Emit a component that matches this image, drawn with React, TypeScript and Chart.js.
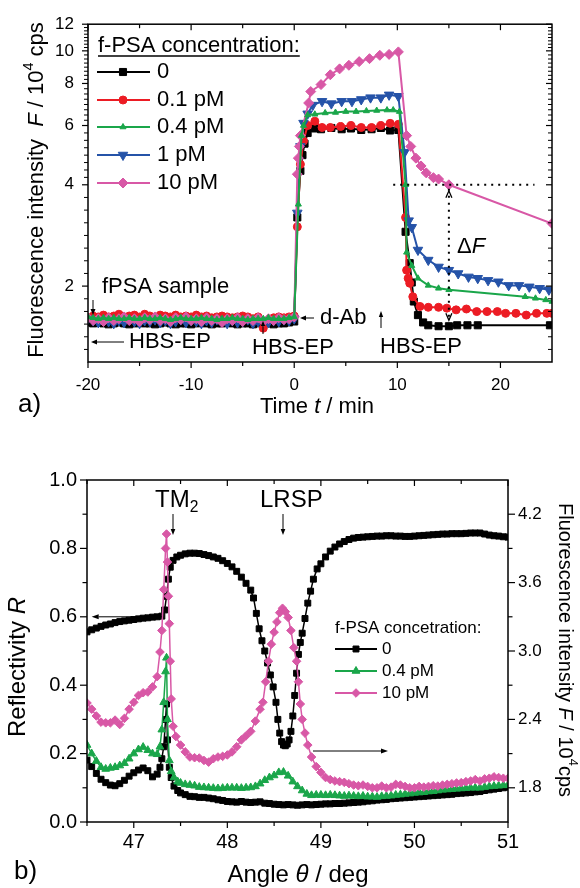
import React, { useEffect, useRef } from 'react';
import { Chart, registerables } from 'chart.js';

Chart.register(...registerables);

const FONT = '"Liberation Sans", Arial, Helvetica, sans-serif';

// ---------------- Panel a) kinetics ----------------
const baselineTime = [-20, -19.5, -19, -18.5, -18, -17.5, -17, -16.5, -16, -15.5, -15, -14.5, -14, -13.5, -13, -12.5, -12, -11.5, -11, -10.5, -10, -9.5, -9, -8.5, -8, -7.5, -7, -6.5, -6, -5.5, -5, -4.5, -4, -3.5, -3, -2.5, -2, -1.5, -1, -0.5, 0];

const zeroBaseline = [1.56, 1.55, 1.56, 1.55, 1.54, 1.55, 1.56, 1.55, 1.54, 1.55, 1.56, 1.55, 1.55, 1.54, 1.55, 1.56, 1.55, 1.54, 1.55, 1.55, 1.54, 1.55, 1.56, 1.55, 1.54, 1.55, 1.55, 1.56, 1.55, 1.54, 1.55, 1.55, 1.54, 1.55, 1.56, 1.55, 1.54, 1.55, 1.55, 1.56, 1.57];
const zeroTimeRest = [0.3, 0.6, 0.8, 1.0, 1.3, 2.0, 2.6, 3.6, 4.6, 5.5, 6.5, 7.5, 8.4, 9.3, 10.1, 10.8, 11.2, 11.4, 11.6, 12.0, 12.5, 13.0, 14.0, 15.0, 15.8, 16.8, 17.8, 24.8];
const zeroRest = [3.2, 4.4, 4.9, 5.3, 5.7, 5.88, 5.85, 5.9, 5.85, 5.88, 5.82, 5.85, 5.9, 5.8, 5.82, 2.9, 2.34, 2.05, 1.8, 1.64, 1.56, 1.53, 1.52, 1.52, 1.53, 1.53, 1.53, 1.53];

const p01Baseline = [1.61, 1.63, 1.62, 1.64, 1.62, 1.63, 1.65, 1.62, 1.63, 1.64, 1.62, 1.65, 1.63, 1.62, 1.64, 1.63, 1.62, 1.64, 1.62, 1.63, 1.62, 1.64, 1.62, 1.63, 1.61, 1.62, 1.63, 1.62, 1.61, 1.62, 1.63, 1.62, 1.6, 1.62, 1.5, 1.58, 1.61, 1.62, 1.61, 1.62, 1.63];
const p01TimeRest = [0.3, 0.6, 0.9, 1.3, 2.0, 2.7, 3.5, 4.5, 5.5, 6.5, 7.5, 8.4, 9.3, 10.1, 10.8, 10.9, 11.05, 11.2, 11.5, 12.2, 13.0, 14.0, 14.8, 15.7, 16.7, 17.7, 18.7, 19.7, 20.5, 21.5, 22.5, 23.5, 24.5, 25.0];
const p01Rest = [3.0, 4.6, 5.4, 6.0, 6.18, 5.92, 5.92, 5.96, 6.0, 5.92, 5.92, 6.0, 6.09, 6.05, 3.2, 2.23, 2.11, 2.04, 1.86, 1.74, 1.73, 1.73, 1.72, 1.7, 1.71, 1.68, 1.68, 1.68, 1.66, 1.66, 1.64, 1.66, 1.66, 1.66];

const p04Baseline = [1.62, 1.61, 1.6, 1.61, 1.6, 1.61, 1.6, 1.6, 1.61, 1.6, 1.6, 1.61, 1.6, 1.6, 1.61, 1.6, 1.59, 1.6, 1.61, 1.6, 1.6, 1.6, 1.61, 1.6, 1.6, 1.59, 1.6, 1.6, 1.61, 1.6, 1.6, 1.59, 1.6, 1.6, 1.6, 1.61, 1.6, 1.6, 1.6, 1.61, 1.62];
const p04TimeRest = [0.4, 0.7, 0.9, 1.3, 2.0, 3.0, 4.0, 5.0, 6.0, 7.0, 8.0, 9.0, 9.6, 10.2, 10.8, 10.9, 11.4, 12.0, 13.0, 14.0, 15.0, 22.4, 23.4, 24.4, 25.0];
const p04Rest = [3.5, 5.6, 6.0, 6.45, 6.48, 6.54, 6.56, 6.6, 6.6, 6.63, 6.65, 6.67, 6.67, 6.6, 4.0, 2.52, 2.3, 2.11, 2.01, 1.97, 1.95, 1.86, 1.84, 1.82, 1.8];

const p1Baseline = [1.6, 1.58, 1.56, 1.59, 1.57, 1.55, 1.58, 1.56, 1.59, 1.57, 1.55, 1.58, 1.57, 1.59, 1.56, 1.58, 1.55, 1.57, 1.59, 1.56, 1.58, 1.57, 1.55, 1.58, 1.56, 1.59, 1.57, 1.55, 1.58, 1.56, 1.57, 1.59, 1.55, 1.57, 1.58, 1.56, 1.58, 1.57, 1.59, 1.58, 1.6];
const p1TimeRest = [0.3, 0.6, 0.9, 1.3, 1.8, 2.7, 3.6, 4.6, 5.6, 6.5, 7.4, 8.4, 9.2, 10.1, 10.7, 11.1, 11.4, 12.0, 13.0, 14.0, 15.0, 15.9, 16.9, 17.8, 18.8, 19.8, 20.8, 21.8, 22.8, 23.8, 24.7];
const p1Rest = [3.3, 5.2, 6.1, 6.5, 6.9, 7.08, 6.97, 7.08, 7.08, 7.17, 7.26, 7.26, 7.4, 7.33, 5.0, 3.13, 2.99, 2.56, 2.39, 2.28, 2.23, 2.18, 2.13, 2.11, 2.08, 2.06, 2.01, 2.01, 1.99, 1.97, 1.95];

const p10Baseline = [1.61, 1.58, 1.6, 1.57, 1.61, 1.58, 1.6, 1.62, 1.58, 1.6, 1.57, 1.61, 1.59, 1.62, 1.58, 1.6, 1.57, 1.61, 1.59, 1.62, 1.58, 1.6, 1.57, 1.61, 1.58, 1.6, 1.56, 1.6, 1.58, 1.61, 1.57, 1.6, 1.58, 1.61, 1.57, 1.6, 1.58, 1.61, 1.59, 1.6, 1.62];
const p10TimeRest = [0.3, 0.4, 0.5, 0.6, 1.4, 1.6, 2.6, 3.5, 4.4, 5.3, 6.3, 7.3, 8.3, 9.2, 10.1, 10.9, 11.3, 11.8, 12.3, 12.8, 13.5, 14.0, 15.0, 25.0];
const p10Rest = [4.3, 4.8, 5.2, 5.6, 7.0, 7.57, 7.94, 8.49, 8.84, 9.06, 9.29, 9.48, 9.7, 9.76, 9.93, 5.6, 5.2, 4.8, 4.55, 4.34, 4.2, 4.16, 4.0, 3.07];

const timeTicks = [-20, -10, 0, 10, 20];
const timeMinorTicks = [-15, -5, 5, 15];
const intensityTicks = [2, 4, 6, 8, 10, 12];

// ---------------- Panel b) angular scans ----------------
const reflAngle = [46.5, 46.55, 46.6, 46.65, 46.7, 46.75, 46.8, 46.85, 46.9, 46.95, 47.0, 47.05, 47.1, 47.15, 47.2, 47.25, 47.3, 47.33, 47.35, 47.37, 47.39, 47.42, 47.46, 47.5, 47.55, 47.6, 47.65, 47.7, 47.75, 47.8, 47.85, 47.9, 47.95, 48.0, 48.05, 48.1, 48.15, 48.2, 48.25, 48.28, 48.31, 48.34, 48.37, 48.4, 48.43, 48.46, 48.49, 48.52, 48.54, 48.56, 48.58, 48.6, 48.62, 48.64, 48.66, 48.68, 48.7, 48.72, 48.74, 48.76, 48.78, 48.8, 48.83, 48.86, 48.89, 48.92, 48.96, 49.0, 49.05, 49.1, 49.15, 49.2, 49.25, 49.3, 49.35, 49.4, 49.45, 49.5, 49.55, 49.6, 49.65, 49.7, 49.75, 49.8, 49.85, 49.9, 49.95, 50.0, 50.05, 50.1, 50.15, 50.2, 50.25, 50.3, 50.35, 50.4, 50.45, 50.5, 50.55, 50.6, 50.65, 50.7, 50.75, 50.8, 50.85, 50.9, 50.95, 51.0];
const reflValue = [0.556, 0.562, 0.567, 0.572, 0.576, 0.579, 0.583, 0.586, 0.588, 0.59, 0.592, 0.594, 0.596, 0.597, 0.599, 0.6, 0.602, 0.62, 0.66, 0.71, 0.745, 0.765, 0.775, 0.78, 0.784, 0.786, 0.786, 0.785, 0.782, 0.779, 0.775, 0.771, 0.764, 0.756, 0.746, 0.733, 0.716, 0.698, 0.678, 0.655, 0.61, 0.565, 0.53, 0.5, 0.465, 0.43, 0.395, 0.35, 0.3, 0.26, 0.235, 0.225, 0.223, 0.228, 0.24, 0.265, 0.31, 0.37, 0.435, 0.49, 0.525, 0.552, 0.595, 0.64, 0.675, 0.71, 0.74, 0.755, 0.775, 0.792, 0.804, 0.813, 0.82, 0.826, 0.83, 0.832, 0.833, 0.834, 0.835, 0.836, 0.836, 0.837, 0.837, 0.836, 0.836, 0.835, 0.835, 0.836, 0.837, 0.838, 0.839, 0.84, 0.841, 0.842, 0.842, 0.843, 0.843, 0.843, 0.844, 0.845, 0.845, 0.845, 0.842, 0.839, 0.837, 0.836, 0.834, 0.833];

const fl0Angle = [46.5, 46.55, 46.6, 46.65, 46.7, 46.75, 46.8, 46.85, 46.9, 46.95, 47.0, 47.05, 47.1, 47.15, 47.2, 47.25, 47.28, 47.3, 47.32, 47.34, 47.35, 47.36, 47.38, 47.4, 47.43, 47.47, 47.5, 47.55, 47.6, 47.65, 47.7, 47.75, 47.8, 47.85, 47.9, 47.95, 48.0, 48.05, 48.1, 48.15, 48.2, 48.25, 48.3, 48.35, 48.4, 48.45, 48.5, 48.55, 48.6, 48.65, 48.7, 48.75, 48.8, 48.85, 48.9, 48.95, 49.0, 49.05, 49.1, 49.15, 49.2, 49.25, 49.3, 49.35, 49.4, 49.45, 49.5, 49.55, 49.6, 49.65, 49.7, 49.75, 49.8, 49.85, 49.9, 49.95, 50.0, 50.05, 50.1, 50.15, 50.2, 50.25, 50.3, 50.35, 50.4, 50.45, 50.5, 50.55, 50.6, 50.65, 50.7, 50.75, 50.8, 50.85, 50.9, 50.95, 51.0];
const fl0Value = [2.043, 1.986, 1.926, 1.875, 1.845, 1.824, 1.818, 1.836, 1.866, 1.902, 1.932, 1.956, 1.974, 1.95, 1.896, 1.92, 1.98, 2.055, 2.16, 2.4, 2.535, 2.22, 1.98, 1.89, 1.815, 1.776, 1.755, 1.74, 1.725, 1.722, 1.716, 1.716, 1.71, 1.704, 1.695, 1.689, 1.68, 1.677, 1.674, 1.68, 1.674, 1.671, 1.674, 1.677, 1.665, 1.662, 1.656, 1.653, 1.65, 1.653, 1.65, 1.647, 1.65, 1.653, 1.65, 1.653, 1.656, 1.659, 1.659, 1.662, 1.662, 1.665, 1.668, 1.671, 1.674, 1.677, 1.683, 1.686, 1.692, 1.695, 1.698, 1.704, 1.707, 1.71, 1.713, 1.716, 1.719, 1.722, 1.725, 1.728, 1.731, 1.734, 1.737, 1.74, 1.743, 1.749, 1.752, 1.755, 1.758, 1.764, 1.767, 1.776, 1.782, 1.788, 1.794, 1.8, 1.806];

const fl04Angle = [46.5, 46.55, 46.6, 46.65, 46.7, 46.75, 46.8, 46.85, 46.9, 46.95, 47.0, 47.05, 47.1, 47.15, 47.2, 47.25, 47.28, 47.3, 47.32, 47.34, 47.35, 47.36, 47.38, 47.4, 47.43, 47.47, 47.5, 47.55, 47.6, 47.65, 47.7, 47.75, 47.8, 47.85, 47.9, 47.95, 48.0, 48.05, 48.1, 48.15, 48.2, 48.25, 48.3, 48.35, 48.4, 48.45, 48.5, 48.55, 48.6, 48.65, 48.7, 48.75, 48.8, 48.85, 48.9, 48.95, 49.0, 49.05, 49.1, 49.15, 49.2, 49.25, 49.3, 49.35, 49.4, 49.45, 49.5, 49.55, 49.6, 49.65, 49.7, 49.75, 49.8, 49.85, 49.9, 49.95, 50.0, 50.05, 50.1, 50.15, 50.2, 50.25, 50.3, 50.35, 50.4, 50.45, 50.5, 50.55, 50.6, 50.65, 50.7, 50.75, 50.8, 50.85, 50.9, 50.95, 51.0];
const fl04Value = [2.175, 2.1, 2.034, 1.98, 1.965, 1.974, 1.98, 1.995, 2.016, 2.055, 2.1, 2.136, 2.157, 2.13, 2.1, 2.094, 2.16, 2.31, 2.55, 2.82, 2.94, 2.4, 2.04, 1.944, 1.89, 1.854, 1.842, 1.83, 1.824, 1.818, 1.806, 1.803, 1.8, 1.797, 1.794, 1.797, 1.8, 1.8, 1.8, 1.797, 1.8, 1.803, 1.812, 1.836, 1.866, 1.89, 1.908, 1.935, 1.938, 1.905, 1.854, 1.812, 1.776, 1.746, 1.734, 1.737, 1.737, 1.734, 1.737, 1.734, 1.731, 1.728, 1.731, 1.728, 1.725, 1.728, 1.722, 1.722, 1.719, 1.725, 1.728, 1.731, 1.737, 1.74, 1.746, 1.749, 1.755, 1.758, 1.761, 1.767, 1.77, 1.776, 1.782, 1.785, 1.788, 1.791, 1.794, 1.797, 1.8, 1.8, 1.8, 1.806, 1.812, 1.815, 1.818, 1.821, 1.824];

const fl10Angle = [46.5, 46.55, 46.6, 46.65, 46.7, 46.75, 46.8, 46.85, 46.9, 46.95, 47.0, 47.05, 47.1, 47.15, 47.2, 47.25, 47.28, 47.3, 47.32, 47.34, 47.35, 47.36, 47.37, 47.38, 47.39, 47.4, 47.42, 47.45, 47.5, 47.55, 47.6, 47.65, 47.7, 47.75, 47.8, 47.85, 47.9, 47.95, 48.0, 48.05, 48.1, 48.15, 48.2, 48.25, 48.3, 48.35, 48.38, 48.41, 48.44, 48.47, 48.5, 48.53, 48.56, 48.59, 48.62, 48.65, 48.68, 48.71, 48.74, 48.76, 48.78, 48.8, 48.83, 48.86, 48.9, 48.95, 49.0, 49.05, 49.1, 49.15, 49.2, 49.25, 49.3, 49.35, 49.4, 49.45, 49.5, 49.55, 49.6, 49.65, 49.7, 49.75, 49.8, 49.85, 49.9, 49.95, 50.0, 50.05, 50.1, 50.15, 50.2, 50.25, 50.3, 50.35, 50.4, 50.45, 50.5, 50.55, 50.6, 50.65, 50.7, 50.75, 50.8, 50.85, 50.9, 50.95, 51.0];
const fl10Value = [2.544, 2.49, 2.43, 2.376, 2.37, 2.37, 2.394, 2.355, 2.409, 2.49, 2.55, 2.61, 2.634, 2.64, 2.685, 2.775, 2.991, 3.18, 3.54, 3.9, 4.026, 3.78, 3.48, 3.24, 2.91, 2.58, 2.34, 2.25, 2.175, 2.115, 2.07, 2.064, 2.061, 2.04, 2.025, 2.055, 2.07, 2.076, 2.088, 2.115, 2.16, 2.22, 2.256, 2.295, 2.385, 2.49, 2.55, 2.73, 2.91, 3.06, 3.165, 3.255, 3.336, 3.375, 3.345, 3.294, 3.18, 3.03, 2.91, 2.73, 2.535, 2.4, 2.28, 2.175, 2.07, 1.986, 1.935, 1.89, 1.872, 1.86, 1.854, 1.848, 1.836, 1.824, 1.818, 1.824, 1.812, 1.8, 1.8, 1.815, 1.8, 1.806, 1.83, 1.824, 1.812, 1.8, 1.8, 1.812, 1.806, 1.812, 1.818, 1.815, 1.824, 1.83, 1.836, 1.842, 1.845, 1.854, 1.86, 1.872, 1.86, 1.878, 1.884, 1.896, 1.89, 1.884, 1.884];

const angleTicks = [47, 48, 49, 50, 51];
const angleMinorTicks = [46.5, 47.5, 48.5, 49.5, 50.5];
const reflTicks = [0, 0.2, 0.4, 0.6, 0.8, 1.0];
const reflMinorTicks = [0.1, 0.3, 0.5, 0.7, 0.9];
const fluorTicks = [1.8, 2.4, 3.0, 3.6, 4.2];
const fluorMinorTicks = [2.1, 2.7, 3.3, 3.9];

// ---------------- helpers ----------------
const BLACK = '#000000';
const RED = '#ec1c24';
const GREEN = '#1aa64a';
const BLUE = '#2553a8';
const PINK = '#d858a6';

function zip(xs: number[], ys: number[]) {
  const n = Math.min(xs.length, ys.length);
  const out: { x: number; y: number }[] = [];
  for (let i = 0; i < n; i++) out.push({ x: xs[i], y: ys[i] });
  return out;
}

function font(size: number, italic = false) {
  return `${italic ? 'italic ' : ''}${size}px ${FONT}`;
}

type Part = { t: string; i?: boolean; sup?: boolean; sub?: boolean };

function richText(ctx: CanvasRenderingContext2D, parts: Part[], x: number, y: number, size: number, align = 'left', rot = 0) {
  ctx.save();
  ctx.translate(x, y);
  ctx.rotate(rot);
  const sizes = parts.map((p) => (p.sup || p.sub ? size * 0.65 : size));
  const widths = parts.map((p, k) => {
    ctx.font = font(sizes[k], p.i);
    return ctx.measureText(p.t).width;
  });
  const total = widths.reduce((a, b) => a + b, 0);
  let cx = align === 'center' ? -total / 2 : align === 'right' ? -total : 0;
  ctx.textBaseline = 'middle';
  ctx.textAlign = 'left';
  ctx.fillStyle = '#000';
  parts.forEach((p, k) => {
    ctx.font = font(sizes[k], p.i);
    const dy = p.sup ? -size * 0.38 : p.sub ? size * 0.32 : 0;
    ctx.fillText(p.t, cx, dy);
    cx += widths[k];
  });
  ctx.restore();
  return total;
}

function line(ctx: CanvasRenderingContext2D, x1: number, y1: number, x2: number, y2: number) {
  ctx.beginPath();
  ctx.moveTo(x1, y1);
  ctx.lineTo(x2, y2);
  ctx.stroke();
}

function arrow(ctx: CanvasRenderingContext2D, x1: number, y1: number, x2: number, y2: number, head = 7, half = 2.5, lw = 1) {
  ctx.save();
  ctx.strokeStyle = '#000';
  ctx.fillStyle = '#000';
  ctx.lineWidth = lw;
  const ang = Math.atan2(y2 - y1, x2 - x1);
  const bx = x2 - Math.cos(ang) * head;
  const by = y2 - Math.sin(ang) * head;
  line(ctx, x1, y1, bx, by);
  ctx.beginPath();
  ctx.moveTo(x2, y2);
  ctx.lineTo(bx - Math.sin(ang) * half, by + Math.cos(ang) * half);
  ctx.lineTo(bx + Math.sin(ang) * half, by - Math.cos(ang) * half);
  ctx.closePath();
  ctx.fill();
  ctx.restore();
}

function drawMarker(ctx: CanvasRenderingContext2D, style: string, x: number, y: number, r: number, color: string, rotation = 0) {
  ctx.save();
  ctx.fillStyle = color;
  ctx.strokeStyle = color;
  ctx.lineWidth = 1;
  ctx.beginPath();
  if (style === 'circle') {
    ctx.arc(x, y, r, 0, Math.PI * 2);
  } else if (style === 'rect') {
    const s = r * Math.SQRT1_2;
    ctx.rect(x - s, y - s, 2 * s, 2 * s);
  } else if (style === 'rectRot') {
    ctx.moveTo(x, y - r);
    ctx.lineTo(x + r, y);
    ctx.lineTo(x, y + r);
    ctx.lineTo(x - r, y);
    ctx.closePath();
  } else if (style === 'triangle') {
    let rad = (rotation * Math.PI) / 180;
    ctx.moveTo(x + Math.sin(rad) * r, y - Math.cos(rad) * r);
    rad += (2 * Math.PI) / 3;
    ctx.lineTo(x + Math.sin(rad) * r, y - Math.cos(rad) * r);
    rad += (2 * Math.PI) / 3;
    ctx.lineTo(x + Math.sin(rad) * r, y - Math.cos(rad) * r);
    ctx.closePath();
  }
  ctx.fill();
  ctx.stroke();
  ctx.restore();
}

const seriesA = [
  { label: '0', t: [...baselineTime, ...zeroTimeRest], v: [...zeroBaseline, ...zeroRest], color: BLACK, style: 'rect', r: 5, rot: 0, order: 4 },
  { label: '0.1 pM', t: [...baselineTime, ...p01TimeRest], v: [...p01Baseline, ...p01Rest], color: RED, style: 'circle', r: 4, rot: 0, order: 3 },
  { label: '0.4 pM', t: [...baselineTime, ...p04TimeRest], v: [...p04Baseline, ...p04Rest], color: GREEN, style: 'triangle', r: 3.5, rot: 0, order: 0 },
  { label: '1 pM', t: [...baselineTime, ...p1TimeRest], v: [...p1Baseline, ...p1Rest], color: BLUE, style: 'triangle', r: 5.5, rot: 180, order: 2 },
  { label: '10 pM', t: [...baselineTime, ...p10TimeRest], v: [...p10Baseline, ...p10Rest], color: PINK, style: 'rectRot', r: 5, rot: 0, order: 1 },
];

const seriesBLegend = [
  { label: '0', color: BLACK, style: 'rect', r: 4.2 },
  { label: '0.4 pM', color: GREEN, style: 'triangle', r: 4.5 },
  { label: '10 pM', color: PINK, style: 'rectRot', r: 4.3 },
];

function drawTicksX(ctx: any, scale: any, area: any, values: number[], len: number) {
  for (const v of values) {
    const px = scale.getPixelForValue(v);
    line(ctx, px, area.bottom, px, area.bottom + len);
    line(ctx, px, area.top, px, area.top + len);
  }
}

const panelAPlugin = {
  id: 'panelA',
  afterDraw(chart: any) {
    const ctx = chart.ctx as CanvasRenderingContext2D;
    const a = chart.chartArea;
    const xs = chart.scales.x;
    const ys = chart.scales.y;
    ctx.save();
    ctx.strokeStyle = '#000';
    ctx.lineWidth = 1.5;
    ctx.strokeRect(a.left, a.top, a.right - a.left, a.bottom - a.top);
    ctx.lineWidth = 1.2;
    drawTicksX(ctx, xs, a, timeTicks, 6);
    drawTicksX(ctx, xs, a, timeMinorTicks, 4);
    const majors = intensityTicks.map((v) => ys.getPixelForValue(v));
    for (const py of majors) {
      line(ctx, a.left - 6, py, a.left, py);
      line(ctx, a.right - 6, py, a.right, py);
    }
    const minors: number[] = [];
    for (let k = 0; k < majors.length - 1; k++) {
      const step = (majors[k] - majors[k + 1]) / 8;
      for (let j = 1; j < 8; j++) minors.push(majors[k] - j * step);
    }
    const firstStep = (majors[0] - majors[1]) / 8;
    for (let py = majors[0] + firstStep; py < a.bottom - 2; py += firstStep) minors.push(py);
    ctx.lineWidth = 1;
    for (const py of minors) {
      line(ctx, a.left - 4, py, a.left, py);
      line(ctx, a.right - 4, py, a.right, py);
    }

    // dotted guide lines for Delta F
    ctx.lineWidth = 2;
    ctx.setLineDash([2, 5]);
    const y4 = ys.getPixelForValue(4);
    line(ctx, xs.getPixelForValue(9.6), y4, xs.getPixelForValue(23.3), y4);
    const x15 = xs.getPixelForValue(15);
    const yLow = ys.getPixelForValue(1.55);
    line(ctx, x15, y4 + 4, x15, yLow - 4);
    ctx.setLineDash([]);
    ctx.lineWidth = 1.3;
    ctx.beginPath();
    ctx.moveTo(x15 - 3, y4 + 13);
    ctx.lineTo(x15, y4 + 6);
    ctx.lineTo(x15 + 3, y4 + 13);
    ctx.stroke();
    ctx.beginPath();
    ctx.moveTo(x15 - 3, yLow - 10);
    ctx.lineTo(x15, yLow - 3);
    ctx.lineTo(x15 + 3, yLow - 10);
    ctx.stroke();
    richText(ctx, [{ t: '\u0394' }, { t: 'F', i: true }], 457, 247, 22);

    // legend
    const lx = 98;
    const w = richText(ctx, [{ t: 'f-PSA concentration:' }], lx, 46, 22);
    ctx.lineWidth = 1.5;
    line(ctx, lx, 56, lx + w, 56);
    const rows = [72, 100, 127, 155, 183];
    seriesA.forEach((s, k) => {
      ctx.strokeStyle = s.color;
      ctx.lineWidth = 2;
      line(ctx, 97, rows[k], 150, rows[k]);
      drawMarker(ctx, s.style, 123, rows[k], s.r, s.color, s.rot);
      richText(ctx, [{ t: s.label }], 157, rows[k], 22);
    });
    ctx.strokeStyle = '#000';

    // process annotations
    richText(ctx, [{ t: 'fPSA sample' }], 102, 287, 22);
    arrow(ctx, 93, 300, 93, 315, 6, 2.5);
    arrow(ctx, 124, 342, 91, 342, 6, 2.5);
    richText(ctx, [{ t: 'HBS-EP' }], 129, 342, 22);
    richText(ctx, [{ t: 'HBS-EP' }], 252, 348, 22);
    arrow(ctx, 263, 334, 263, 321, 5, 2.2);
    arrow(ctx, 314, 318, 300, 318, 6, 2.5);
    richText(ctx, [{ t: 'd-Ab' }], 320, 318, 22);
    arrow(ctx, 381, 328, 381, 311, 6, 2.2);
    richText(ctx, [{ t: 'HBS-EP' }], 380, 347, 22);

    // axis titles
    richText(ctx, [{ t: 'Fluorescence intensity  ' }, { t: 'F', i: true }, { t: ' / 10' }, { t: '4', sup: true }, { t: ' cps' }], 37, 190, 22, 'center', -Math.PI / 2);
    richText(ctx, [{ t: 'Time ' }, { t: 't', i: true }, { t: ' / min' }], 317, 407, 22, 'center');
    richText(ctx, [{ t: 'a)' }], 18, 405, 26);
    ctx.restore();
  },
};

const panelBPlugin = {
  id: 'panelB',
  afterDraw(chart: any) {
    const ctx = chart.ctx as CanvasRenderingContext2D;
    const a = chart.chartArea;
    const xs = chart.scales.x;
    const ys = chart.scales.y;
    const yr = chart.scales.y1;
    ctx.save();
    ctx.strokeStyle = '#000';
    ctx.lineWidth = 1.5;
    ctx.strokeRect(a.left, a.top, a.right - a.left, a.bottom - a.top);
    ctx.lineWidth = 1.2;
    drawTicksX(ctx, xs, a, angleTicks, 6);
    drawTicksX(ctx, xs, a, angleMinorTicks, 4);
    for (const v of reflTicks) {
      const py = ys.getPixelForValue(v);
      line(ctx, a.left - 7, py, a.left, py);
    }
    for (const v of reflMinorTicks) {
      const py = ys.getPixelForValue(v);
      line(ctx, a.left - 4.5, py, a.left, py);
    }
    for (const v of fluorTicks) {
      const py = yr.getPixelForValue(v);
      line(ctx, a.right, py, a.right + 7, py);
    }
    for (const v of fluorMinorTicks) {
      const py = yr.getPixelForValue(v);
      line(ctx, a.right, py, a.right + 4.5, py);
    }

    // resonance labels
    richText(ctx, [{ t: 'TM' }, { t: '2', sub: true }], 155, 60, 24);
    arrow(ctx, 173, 74, 173, 95, 6, 2.3);
    richText(ctx, [{ t: 'LRSP' }], 260, 60, 24);
    arrow(ctx, 283, 74, 283, 95, 6, 2.3);

    // axis-assignment arrows
    const y06 = ys.getPixelForValue(0.6);
    arrow(ctx, xs.getPixelForValue(47.3), y06, xs.getPixelForValue(46.55), y06, 7, 2.5);
    arrow(ctx, 313, 311, 388, 311, 7, 2.5);

    // legend
    richText(ctx, [{ t: 'f-PSA concetration:' }], 335, 188, 17);
    const rows = [209, 231, 253];
    seriesBLegend.forEach((s, k) => {
      ctx.strokeStyle = s.color;
      ctx.lineWidth = 1.8;
      line(ctx, 335, rows[k], 377, rows[k]);
      drawMarker(ctx, s.style, 356, rows[k], s.r, s.color, 0);
      richText(ctx, [{ t: s.label }], 382, rows[k], 17);
    });

    // axis titles
    richText(ctx, [{ t: 'Reflectivity ' }, { t: 'R', i: true }], 18, 227, 24, 'center', -Math.PI / 2);
    richText(ctx, [{ t: 'Fluorescence intensity ' }, { t: 'F', i: true }, { t: ' / 10' }, { t: '4', sup: true }, { t: 'cps' }], 565, 210, 20, 'center', Math.PI / 2);
    richText(ctx, [{ t: 'Angle ' }, { t: '\u03b8', i: true }, { t: ' / deg' }], 298, 435, 24, 'center');
    richText(ctx, [{ t: 'b)' }], 14, 432, 26);
    ctx.restore();
  },
};

function tickFont(size: number) {
  return { family: FONT, size };
}

function makeConfigA(): any {
  return {
    type: 'line',
    data: {
      datasets: seriesA.map((s) => ({
        label: s.label,
        data: zip(s.t, s.v),
        borderColor: s.color,
        backgroundColor: s.color,
        borderWidth: 2,
        pointStyle: s.style,
        pointRadius: s.r,
        pointRotation: s.rot,
        pointBorderWidth: 1,
        pointBackgroundColor: s.color,
        pointBorderColor: s.color,
        tension: 0,
        fill: false,
        order: s.order,
      })),
    },
    options: {
      responsive: false,
      animation: false,
      events: [],
      layout: { padding: { top: 22, right: 28, left: 0, bottom: 0 } },
      plugins: { legend: { display: false }, tooltip: { enabled: false } },
      scales: {
        x: {
          type: 'linear',
          min: -20,
          max: 25,
          afterBuildTicks: (s: any) => {
            s.ticks = timeTicks.map((v) => ({ value: v }));
          },
          afterFit: (s: any) => {
            s.height = 78;
          },
          grid: { display: false, drawTicks: false },
          border: { display: false },
          ticks: { font: tickFont(17), color: '#000', padding: 13, maxRotation: 0, autoSkip: false, callback: (v: any) => String(v) },
        },
        y: {
          type: 'logarithmic',
          min: 1.19,
          max: 12,
          afterBuildTicks: (s: any) => {
            s.ticks = intensityTicks.map((v) => ({ value: v }));
          },
          afterFit: (s: any) => {
            s.width = 88;
          },
          grid: { display: false, drawTicks: false },
          border: { display: false },
          ticks: { font: tickFont(17), color: '#000', padding: 14, autoSkip: false, callback: (v: any) => String(v) },
        },
      },
    },
    plugins: [panelAPlugin],
  };
}

function makeConfigB(): any {
  const common = { tension: 0, fill: false, pointBorderWidth: 1 };
  return {
    type: 'line',
    data: {
      datasets: [
        { ...common, label: 'R', data: zip(reflAngle, reflValue), yAxisID: 'y', borderColor: BLACK, backgroundColor: BLACK, borderWidth: 1.5, pointStyle: 'rect', pointRadius: 4.2, order: 3 },
        { ...common, label: '0', data: zip(fl0Angle, fl0Value), yAxisID: 'y1', borderColor: BLACK, backgroundColor: BLACK, borderWidth: 1.5, pointStyle: 'rect', pointRadius: 4.2, order: 2 },
        { ...common, label: '0.4 pM', data: zip(fl04Angle, fl04Value), yAxisID: 'y1', borderColor: GREEN, backgroundColor: GREEN, borderWidth: 1.5, pointStyle: 'triangle', pointRadius: 4.5, order: 1 },
        { ...common, label: '10 pM', data: zip(fl10Angle, fl10Value), yAxisID: 'y1', borderColor: PINK, backgroundColor: PINK, borderWidth: 1.5, pointStyle: 'rectRot', pointRadius: 4.3, order: 0 },
      ],
    },
    options: {
      responsive: false,
      animation: false,
      events: [],
      layout: { padding: { top: 40, right: 0, left: 0, bottom: 0 } },
      plugins: { legend: { display: false }, tooltip: { enabled: false } },
      scales: {
        x: {
          type: 'linear',
          min: 46.5,
          max: 51,
          afterBuildTicks: (s: any) => {
            s.ticks = angleTicks.map((v) => ({ value: v }));
          },
          afterFit: (s: any) => {
            s.height = 66;
          },
          grid: { display: false, drawTicks: false },
          border: { display: false },
          ticks: { font: tickFont(20), color: '#000', padding: 8, maxRotation: 0, autoSkip: false, callback: (v: any) => String(v) },
        },
        y: {
          type: 'linear',
          position: 'left',
          min: 0,
          max: 1,
          afterBuildTicks: (s: any) => {
            s.ticks = reflTicks.map((v) => ({ value: v }));
          },
          afterFit: (s: any) => {
            s.width = 87;
          },
          grid: { display: false, drawTicks: false },
          border: { display: false },
          ticks: { font: tickFont(20), color: '#000', padding: 10, autoSkip: false, callback: (v: any) => Number(v).toFixed(1) },
        },
        y1: {
          type: 'linear',
          position: 'right',
          min: 1.5,
          max: 4.5,
          afterBuildTicks: (s: any) => {
            s.ticks = fluorTicks.map((v) => ({ value: v }));
          },
          afterFit: (s: any) => {
            s.width = 72;
          },
          grid: { display: false, drawTicks: false },
          border: { display: false },
          ticks: { font: tickFont(17), color: '#000', padding: 10, autoSkip: false, callback: (v: any) => Number(v).toFixed(1) },
        },
      },
    },
    plugins: [panelBPlugin],
  };
}

export default function App() {
  const topRef = useRef<HTMLCanvasElement | null>(null);
  const botRef = useRef<HTMLCanvasElement | null>(null);
  useEffect(() => {
    const c1 = new Chart(topRef.current as HTMLCanvasElement, makeConfigA());
    const c2 = new Chart(botRef.current as HTMLCanvasElement, makeConfigB());
    return () => {
      c1.destroy();
      c2.destroy();
    };
  }, []);
  return (
    <div style={{ position: 'absolute', left: 0, top: 0, width: 580, height: 888, background: '#fff' }}>
      <canvas ref={topRef} width={580} height={440} style={{ display: 'block', width: 580, height: 440 }} />
      <canvas ref={botRef} width={580} height={448} style={{ display: 'block', width: 580, height: 448 }} />
    </div>
  );
}
